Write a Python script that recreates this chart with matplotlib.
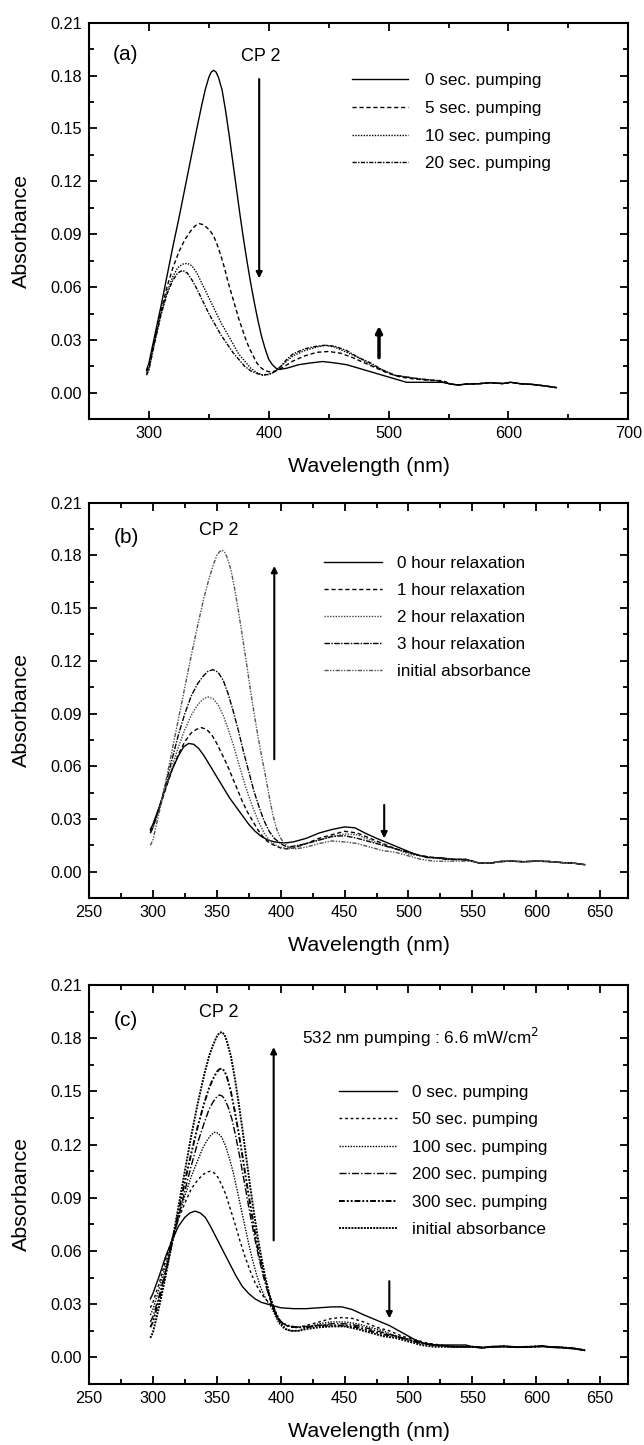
import matplotlib
matplotlib.use('Agg')
import matplotlib.pyplot as plt
from matplotlib.ticker import MultipleLocator, FormatStrFormatter

plt.rcParams['font.family'] = ['Liberation Sans', 'DejaVu Sans']

# ---------------- panel (a): pumping ----------------
a_labels = ['0 sec. pumping', '5 sec. pumping', '10 sec. pumping', '20 sec. pumping']

a_tail_nm = [552, 558, 565, 575, 585, 595, 602, 610, 620, 630, 640]
a_tail_abs = [0.005, 0.0045, 0.005, 0.0052, 0.0058, 0.0053, 0.006, 0.0052, 0.0048, 0.004, 0.003]

a0_nm = [298, 300, 305, 310, 315, 320, 325, 330, 335, 340, 344, 347, 350, 352, 354, 356, 358, 361, 364, 367,
         370, 373, 376, 379, 382, 385, 388, 391, 394, 397, 400, 403, 406, 409, 415, 425, 435, 445, 455, 465,
         475, 485, 495, 505, 515, 530, 545]
a0_abs = [0.013, 0.017, 0.033, 0.049, 0.066, 0.083, 0.099, 0.116, 0.133, 0.150, 0.163, 0.172, 0.179, 0.182,
          0.183, 0.182, 0.179, 0.172, 0.160, 0.146, 0.131, 0.116, 0.101, 0.087, 0.074, 0.062, 0.051, 0.041,
          0.032, 0.025, 0.019, 0.016, 0.014, 0.0133, 0.014, 0.016, 0.017, 0.0178, 0.017, 0.016, 0.014, 0.012,
          0.010, 0.008, 0.006, 0.006, 0.006]

a5_nm = [298, 300, 305, 310, 315, 320, 325, 330, 335, 339, 342, 345, 348, 351, 354, 357, 360, 363, 366, 369,
         372, 375, 378, 381, 384, 387, 390, 393, 396, 400, 404, 408, 413, 420, 430, 440, 450, 460, 470, 480,
         490, 500, 510, 520, 535, 545]
a5_abs = [0.012, 0.015, 0.031, 0.046, 0.060, 0.071, 0.080, 0.087, 0.092, 0.095, 0.096, 0.0955, 0.094, 0.092,
          0.089, 0.084, 0.078, 0.071, 0.063, 0.056, 0.049, 0.042, 0.036, 0.030, 0.025, 0.021, 0.017, 0.0145,
          0.013, 0.012, 0.0122, 0.013, 0.015, 0.018, 0.021, 0.023, 0.0235, 0.0225, 0.020, 0.017, 0.014, 0.011,
          0.009, 0.008, 0.007, 0.007]

a10_nm = [298, 300, 305, 310, 315, 320, 324, 328, 332, 336, 340, 345, 350, 355, 360, 365, 370, 375, 380, 385,
          390, 395, 400, 405, 410, 415, 420, 430, 440, 447, 455, 465, 475, 485, 495, 505, 515, 525, 540]
a10_abs = [0.011, 0.014, 0.030, 0.045, 0.057, 0.066, 0.071, 0.073, 0.0735, 0.072, 0.068, 0.061, 0.054, 0.047,
           0.040, 0.034, 0.028, 0.022, 0.018, 0.014, 0.0115, 0.010, 0.0105, 0.012, 0.015, 0.018, 0.021, 0.024,
           0.026, 0.027, 0.026, 0.023, 0.020, 0.016, 0.013, 0.010, 0.009, 0.008, 0.007]

a20_nm = [298, 300, 305, 310, 315, 320, 324, 328, 332, 336, 340, 345, 350, 355, 360, 365, 370, 375, 380, 385,
          390, 395, 400, 405, 410, 415, 420, 430, 440, 447, 455, 465, 475, 485, 495, 505, 515, 525, 540]
a20_abs = [0.010, 0.013, 0.029, 0.044, 0.056, 0.064, 0.068, 0.0695, 0.068, 0.064, 0.059, 0.052, 0.045, 0.039,
           0.033, 0.028, 0.023, 0.019, 0.015, 0.0125, 0.011, 0.0102, 0.0105, 0.012, 0.015, 0.019, 0.022, 0.025,
           0.0265, 0.027, 0.0265, 0.024, 0.020, 0.017, 0.013, 0.010, 0.009, 0.008, 0.007]

# ---------------- panel (b): relaxation ----------------
b_labels = ['0 hour relaxation', '1 hour relaxation', '2 hour relaxation', '3 hour relaxation', 'initial absorbance']

b_tail_nm = [550, 556, 565, 572, 580, 590, 600, 610, 620, 630, 638]
b_tail_abs = [0.006, 0.0048, 0.005, 0.0058, 0.006, 0.0057, 0.006, 0.0058, 0.0052, 0.0048, 0.004]

b0_nm = [298, 300, 305, 310, 315, 320, 324, 328, 332, 336, 340, 345, 350, 355, 360, 365, 370, 375, 380, 385,
         390, 395, 400, 405, 410, 420, 430, 440, 450, 458, 466, 475, 485, 495, 505, 515, 525, 535, 545]
b0_abs = [0.024, 0.027, 0.037, 0.048, 0.058, 0.066, 0.071, 0.073, 0.0725, 0.070, 0.066, 0.060, 0.054, 0.048,
          0.042, 0.037, 0.032, 0.027, 0.023, 0.020, 0.018, 0.017, 0.0165, 0.0165, 0.017, 0.019, 0.022, 0.024,
          0.0255, 0.025, 0.022, 0.019, 0.016, 0.013, 0.010, 0.008, 0.008, 0.007, 0.007]

b1_nm = [298, 300, 305, 310, 315, 320, 325, 330, 334, 338, 342, 346, 350, 354, 358, 362, 366, 370, 374, 378,
         382, 386, 390, 395, 400, 405, 410, 420, 430, 440, 450, 460, 470, 480, 490, 500, 510, 520, 535, 545]
b1_abs = [0.023, 0.026, 0.036, 0.047, 0.058, 0.067, 0.074, 0.079, 0.081, 0.082, 0.081, 0.078, 0.073, 0.067,
          0.061, 0.054, 0.047, 0.040, 0.034, 0.029, 0.024, 0.020, 0.017, 0.015, 0.0135, 0.013, 0.0135, 0.016,
          0.019, 0.021, 0.023, 0.022, 0.019, 0.016, 0.013, 0.011, 0.009, 0.008, 0.007, 0.007]

b2_nm = [298, 300, 305, 310, 315, 320, 325, 330, 335, 339, 343, 347, 351, 355, 359, 363, 367, 371, 375, 379,
         383, 387, 391, 395, 400, 405, 410, 420, 430, 440, 450, 460, 470, 480, 490, 500, 510, 520, 535, 545]
b2_abs = [0.022, 0.025, 0.036, 0.048, 0.060, 0.071, 0.081, 0.089, 0.095, 0.098, 0.0995, 0.0985, 0.095, 0.089,
          0.081, 0.072, 0.062, 0.052, 0.043, 0.035, 0.028, 0.022, 0.018, 0.0155, 0.014, 0.013, 0.0135, 0.016,
          0.018, 0.020, 0.0215, 0.021, 0.018, 0.015, 0.013, 0.010, 0.009, 0.008, 0.007, 0.007]

b3_nm = [298, 300, 305, 310, 315, 320, 325, 330, 335, 339, 343, 347, 351, 355, 359, 363, 367, 371, 375, 379,
         383, 387, 391, 395, 400, 405, 410, 420, 430, 440, 450, 460, 470, 480, 490, 500, 510, 520, 530, 540]
b3_abs = [0.022, 0.025, 0.036, 0.050, 0.064, 0.078, 0.090, 0.100, 0.107, 0.111, 0.114, 0.115, 0.1135, 0.109,
          0.101, 0.091, 0.080, 0.068, 0.057, 0.046, 0.037, 0.029, 0.023, 0.019, 0.016, 0.014, 0.0145, 0.016,
          0.018, 0.020, 0.0205, 0.019, 0.017, 0.015, 0.013, 0.011, 0.009, 0.008, 0.007, 0.007]

b_init_nm = [298, 300, 305, 310, 315, 320, 325, 330, 335, 340, 344, 347, 350, 352, 354, 356, 358, 361, 364, 367,
             370, 373, 376, 379, 382, 385, 388, 391, 394, 397, 400, 403, 406, 412, 420, 430, 440, 450, 460, 470,
             480, 490, 500, 510, 520, 530, 540]
b_init_abs = [0.015, 0.018, 0.034, 0.051, 0.069, 0.087, 0.105, 0.123, 0.140, 0.156, 0.167, 0.174, 0.180, 0.182,
              0.183, 0.182, 0.179, 0.172, 0.161, 0.148, 0.134, 0.120, 0.105, 0.091, 0.078, 0.066, 0.055, 0.043,
              0.032, 0.024, 0.019, 0.016, 0.014, 0.013, 0.014, 0.016, 0.0175, 0.017, 0.016, 0.014, 0.012, 0.011,
              0.009, 0.007, 0.006, 0.006, 0.006]

# ---------------- panel (c): 532 nm pumping ----------------
c_labels = ['0 sec. pumping', '50 sec. pumping', '100 sec. pumping', '200 sec. pumping', '300 sec. pumping',
            'initial absorbance']

c_tail_nm = [550, 558, 565, 575, 585, 595, 605, 612, 620, 630, 638]
c_tail_abs = [0.006, 0.0055, 0.006, 0.0062, 0.0058, 0.006, 0.0063, 0.0058, 0.0056, 0.005, 0.004]

c0_nm = [298, 300, 305, 310, 315, 320, 325, 329, 333, 337, 341, 345, 350, 355, 360, 365, 370, 375, 380, 385,
         390, 395, 400, 410, 420, 430, 440, 448, 456, 465, 475, 485, 495, 505, 512, 520, 535, 545]
c0_abs = [0.033, 0.036, 0.046, 0.057, 0.066, 0.074, 0.079, 0.0815, 0.0825, 0.0815, 0.079, 0.074, 0.067, 0.060,
          0.053, 0.046, 0.040, 0.036, 0.033, 0.031, 0.030, 0.029, 0.028, 0.0275, 0.0275, 0.028, 0.0285, 0.0285,
          0.027, 0.024, 0.021, 0.018, 0.014, 0.010, 0.008, 0.007, 0.007, 0.007]

c50_nm = [298, 300, 305, 310, 315, 320, 325, 330, 335, 339, 342, 345, 348, 351, 354, 357, 360, 364, 368, 372,
          376, 380, 384, 388, 392, 395, 398, 402, 407, 413, 420, 430, 440, 448, 456, 465, 475, 485, 495, 505,
          515, 525, 540]
c50_abs = [0.028, 0.031, 0.042, 0.055, 0.067, 0.078, 0.087, 0.095, 0.100, 0.103, 0.1045, 0.105, 0.104, 0.1015,
           0.097, 0.092, 0.085, 0.076, 0.066, 0.057, 0.049, 0.042, 0.037, 0.033, 0.030, 0.026, 0.022, 0.019,
           0.017, 0.017, 0.018, 0.020, 0.022, 0.0225, 0.022, 0.020, 0.017, 0.015, 0.012, 0.010, 0.008, 0.007,
           0.006]

c100_nm = [298, 300, 305, 310, 315, 320, 325, 330, 335, 339, 342, 345, 348, 351, 354, 357, 360, 363, 366, 369,
           372, 375, 378, 381, 384, 387, 390, 393, 396, 399, 403, 408, 414, 420, 430, 440, 450, 460, 470, 480,
           490, 500, 510, 520, 535]
c100_abs = [0.024, 0.027, 0.039, 0.052, 0.066, 0.079, 0.091, 0.102, 0.111, 0.118, 0.122, 0.125, 0.127, 0.1265,
            0.124, 0.119, 0.112, 0.104, 0.094, 0.084, 0.074, 0.064, 0.055, 0.047, 0.040, 0.035, 0.031, 0.028,
            0.023, 0.019, 0.016, 0.015, 0.015, 0.017, 0.019, 0.020, 0.020, 0.019, 0.017, 0.015, 0.012, 0.010,
            0.008, 0.007, 0.006]

c200_nm = [298, 300, 305, 310, 315, 320, 325, 330, 335, 340, 344, 347, 350, 352, 354, 356, 359, 362, 365, 368,
           371, 374, 377, 380, 383, 386, 389, 392, 395, 398, 402, 407, 414, 420, 430, 440, 450, 460, 470, 480,
           490, 500, 510, 520, 535]
c200_abs = [0.020, 0.023, 0.035, 0.049, 0.064, 0.079, 0.094, 0.108, 0.121, 0.132, 0.140, 0.144, 0.147, 0.148,
            0.1475, 0.146, 0.141, 0.134, 0.124, 0.113, 0.101, 0.089, 0.077, 0.066, 0.056, 0.047, 0.039, 0.032,
            0.026, 0.022, 0.019, 0.0175, 0.017, 0.0175, 0.018, 0.019, 0.019, 0.018, 0.016, 0.014, 0.012, 0.010,
            0.008, 0.007, 0.006]

c300_nm = [298, 300, 305, 310, 315, 320, 325, 330, 335, 340, 344, 347, 350, 352, 354, 356, 358, 361, 364, 367,
           370, 373, 376, 379, 382, 385, 388, 391, 394, 397, 400, 405, 412, 420, 430, 440, 450, 460, 470, 480,
           490, 500, 510, 520, 535]
c300_abs = [0.017, 0.020, 0.033, 0.048, 0.065, 0.082, 0.099, 0.115, 0.130, 0.143, 0.152, 0.157, 0.161, 0.1625,
            0.163, 0.1615, 0.158, 0.150, 0.139, 0.127, 0.114, 0.100, 0.087, 0.074, 0.062, 0.052, 0.043, 0.035,
            0.029, 0.024, 0.020, 0.018, 0.017, 0.017, 0.018, 0.018, 0.018, 0.017, 0.015, 0.013, 0.012, 0.010,
            0.008, 0.007, 0.006]

c_init_nm = [298, 300, 305, 310, 315, 320, 325, 330, 335, 340, 344, 347, 350, 352, 354, 356, 358, 361, 364, 367,
             370, 373, 376, 379, 382, 385, 388, 391, 394, 397, 400, 404, 408, 414, 420, 430, 440, 450, 460, 470,
             480, 490, 500, 510, 520, 535]
c_init_abs = [0.011, 0.014, 0.029, 0.046, 0.065, 0.085, 0.105, 0.125, 0.143, 0.159, 0.170, 0.176, 0.181, 0.183,
              0.1835, 0.182, 0.178, 0.170, 0.158, 0.144, 0.129, 0.113, 0.097, 0.082, 0.068, 0.056, 0.045, 0.036,
              0.029, 0.023, 0.019, 0.016, 0.015, 0.015, 0.016, 0.017, 0.0175, 0.0175, 0.016, 0.014, 0.012, 0.011,
              0.009, 0.007, 0.006, 0.006]


def style_axes(ax, xlim, xmajor, xminor):
    ax.set_xlim(*xlim)
    ax.set_ylim(-0.015, 0.21)
    ax.xaxis.set_major_locator(MultipleLocator(xmajor))
    ax.xaxis.set_minor_locator(MultipleLocator(xminor))
    ax.yaxis.set_major_locator(MultipleLocator(0.03))
    ax.yaxis.set_minor_locator(MultipleLocator(0.015))
    ax.yaxis.set_major_formatter(FormatStrFormatter('%.2f'))
    ax.tick_params(which='both', direction='in', top=True, right=True, width=1.3, labelsize=11.7, pad=5)
    ax.tick_params(which='major', length=6)
    ax.tick_params(which='minor', length=3.5)
    for s in ax.spines.values():
        s.set_linewidth(1.5)
    ax.set_xlabel('Wavelength (nm)', fontsize=15.4)
    ax.set_ylabel('Absorbance', fontsize=15.4)
    ax.xaxis.set_label_coords(0.52, -0.095)
    ax.yaxis.set_label_coords(-0.107, 0.476)


def arrow(ax, x, y0, y1, lw=1.5):
    ax.annotate('', xy=(x, y1), xytext=(x, y0),
                arrowprops=dict(arrowstyle='-|>', lw=lw, color='black', mutation_scale=9, shrinkA=0, shrinkB=0))


fig = plt.figure(figsize=(6.44, 14.45), dpi=100)
ax_a = fig.add_axes([0.1382, 0.7098, 0.8374, 0.2745])
ax_b = fig.add_axes([0.1382, 0.3785, 0.8374, 0.2736])
ax_c = fig.add_axes([0.1382, 0.0422, 0.8374, 0.2761])

# (a)
a_styles = ['-', (0, (3, 2)), (0, (1, 1)), (0, (3, 1, 1, 1))]
for nm, ab, ls, lab in zip([a0_nm, a5_nm, a10_nm, a20_nm], [a0_abs, a5_abs, a10_abs, a20_abs], a_styles, a_labels):
    ax_a.plot(nm + a_tail_nm, ab + a_tail_abs, color='black', lw=1.0, ls=ls, label=lab)
style_axes(ax_a, (250, 700), 100, 50)
ax_a.legend(loc='upper left', bbox_to_anchor=(0.487, 0.872), frameon=False, fontsize=12.3, handlelength=3.3,
            handletextpad=1.0, labelspacing=0.74, borderpad=0, borderaxespad=0)
ax_a.text(270, 0.192, '(a)', fontsize=15, va='center')
ax_a.text(393, 0.191, 'CP 2', fontsize=13, ha='center', va='center')
arrow(ax_a, 392, 0.178, 0.065)
arrow(ax_a, 492, 0.020, 0.038, lw=2.5)

# (b)
b_styles = ['-', (0, (3, 2)), (0, (1, 1)), (0, (4, 1, 1, 1)), (0, (3, 1, 1, 1, 1, 1))]
b_colors = ['black', 'black', '#444444', 'black', '#555555']
for nm, ab, ls, c, lab in zip([b0_nm, b1_nm, b2_nm, b3_nm, b_init_nm], [b0_abs, b1_abs, b2_abs, b3_abs, b_init_abs],
                              b_styles, b_colors, b_labels):
    ax_b.plot(nm + b_tail_nm, ab + b_tail_abs, color=c, lw=1.0, ls=ls, label=lab)
style_axes(ax_b, (250, 672), 50, 25)
ax_b.legend(loc='upper left', bbox_to_anchor=(0.435, 0.866), frameon=False, fontsize=12.3, handlelength=3.4,
            handletextpad=0.9, labelspacing=0.71, borderpad=0, borderaxespad=0)
ax_b.text(269.5, 0.190, '(b)', fontsize=15, va='center')
ax_b.text(351.5, 0.194, 'CP 2', fontsize=13, ha='center', va='center')
arrow(ax_b, 395, 0.064, 0.174)
arrow(ax_b, 481, 0.038, 0.019)

# (c)
c_styles = ['-', (0, (2, 2)), (0, (1, 1)), (0, (5, 1.5, 1, 1.5)), (0, (3, 1, 1, 1, 1, 1)), (0, (1, 0.6))]
c_widths = [1.0, 1.0, 1.0, 1.0, 1.4, 1.4]
for nm, ab, ls, w, lab in zip([c0_nm, c50_nm, c100_nm, c200_nm, c300_nm, c_init_nm],
                              [c0_abs, c50_abs, c100_abs, c200_abs, c300_abs, c_init_abs],
                              c_styles, c_widths, c_labels):
    ax_c.plot(nm + c_tail_nm, ab + c_tail_abs, color='black', lw=w, ls=ls, label=lab)
style_axes(ax_c, (250, 672), 50, 25)
ax_c.legend(loc='upper left', bbox_to_anchor=(0.463, 0.750), frameon=False, fontsize=12.3, handlelength=3.4,
            handletextpad=0.88, labelspacing=0.73, borderpad=0, borderaxespad=0)
ax_c.text(269.5, 0.190, '(c)', fontsize=15, va='center')
ax_c.text(351.5, 0.1946, 'CP 2', fontsize=13, ha='center', va='center')
ax_c.text(417, 0.1805, '532 nm pumping : 6.6 mW/cm$^2$', fontsize=12.3, va='center')
arrow(ax_c, 394.5, 0.066, 0.175)
arrow(ax_c, 485, 0.043, 0.022)

fig.savefig('out.png', dpi=100)
